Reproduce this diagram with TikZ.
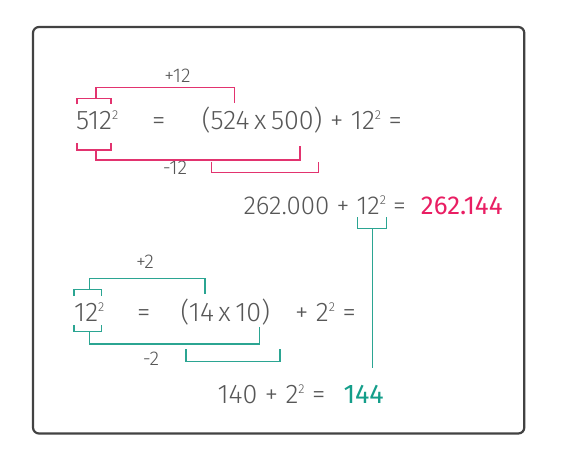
\documentclass[tikz,border=0pt]{standalone}
\usepackage{fontspec}
\setmainfont{Fira Sans}[UprightFont={* Light},BoldFont={* Regular}]
\usetikzlibrary{positioning}
\definecolor{txtgray}{HTML}{575757}
\definecolor{pinkline}{HTML}{E2336F}
\definecolor{pinktxt}{HTML}{E91E63}
\definecolor{tealline}{HTML}{2BA592}
\definecolor{tealtxt}{HTML}{149E8A}
\definecolor{framegray}{HTML}{424242}
\newcommand{\pw}[1]{\raisebox{0.38em}{\fontsize{13}{13}\selectfont #1}}
\newcommand{\tms}{\hspace{0.17em}x\hspace{0.17em}}

\begin{document}
\begin{tikzpicture}[x=1bp,y=-1bp,line join=miter,
  eq/.style={anchor=base west,inner sep=0pt,text=txtgray,font=\fontsize{27}{27}\selectfont},
  eqsm/.style={eq,font=\fontsize{26}{26}\selectfont},
  lbl/.style={anchor=base,inner sep=0pt,text=txtgray,font=\fontsize{20}{20}\selectfont},
  pk/.style={draw=pinkline,line width=1.5bp},
  tl/.style={draw=tealline,line width=1.5bp}]
\useasboundingbox (0,0) rectangle (585,469);
\draw [framegray,line width=2.2bp,rounded corners=6bp] (33,27) rectangle (524.3,433.5);
% first identity
\node[eq] (sqa) at (76,130) {512\pw{2}};
\node[eq] (eqa) at (152,130) {=};
\node[eq] (rhsa) at (201.7,130) {(524\tms 500)};
\node[eq] (taila) at (330,130) {+ 12\pw{2} =};
\node[lbl] (upa) at (177.5,82.7) {+12};
\node[lbl] (downa) at (175,174.5) {-12};
\draw [pk] (77,104.3) -- (77,98.3) -- (111,98.3) -- (111,104.3);
\draw [pk] (96,98.3) -- (96,87.3) -- (234.7,87.3) -- (234.7,102.7);
\draw [pk] (77,143.3) -- (77,150) -- (111,150) -- (111,143.3);
\draw [pk] (96,150) -- (96,160) -- (300,160) -- (300,146);
\draw [pk] (211.7,161.7) -- (211.7,172.7) -- (318.3,172.7) -- (318.3,161.7);
\node[eqsm] (suma) at (243.3,214.3) {262.000 + 12\pw{2} =};
\node[eqsm,text=pinktxt,anchor=base east] (resa) at (502.7,214.3) {\bfseries 262.144};
% second identity
\node[eq] (sqb) at (74,321.7) {12\pw{2}};
\node[eq] (eqb) at (137,321.7) {=};
\node[eq] (rhsb) at (180.5,321.7) {(14\tms 10)};
\node[eq] (tailb) at (295,321.7) {+ 2\pw{2} =};
\node[lbl] (upb) at (145,268.3) {+2};
\node[lbl] (downb) at (151,365.5) {-2};
\draw [tl] (74,296) -- (74,289.3) -- (101.3,289.3) -- (101.3,296);
\draw [tl] (89.3,289.3) -- (89.3,278.3) -- (205,278.3) -- (205,294);
\draw [tl] (74,325) -- (74,331.7) -- (101.3,331.7) -- (101.3,325);
\draw [tl] (89.3,331.7) -- (89.3,344) -- (259.3,344) -- (259.3,327.3);
\draw [tl] (186,349.3) -- (186,361.7) -- (280,361.7) -- (280,349.3);
\node[eq] (sumb) at (217.3,403.3) {140 + 2\pw{2} =};
\node[eq,text=tealtxt,anchor=base east] (resb) at (384,403.3) {\bfseries 144};
% link between the two
\draw [tl] (357.7,217.3) -- (357.7,228.3) -- (386.7,228.3) -- (386.7,217.3);
\coordinate (linktop) at (372.3,228.3);
\coordinate (linkbot) at (372.3,368.3);
\draw [tl] (linktop) -- (linkbot);
\end{tikzpicture}
\end{document}
